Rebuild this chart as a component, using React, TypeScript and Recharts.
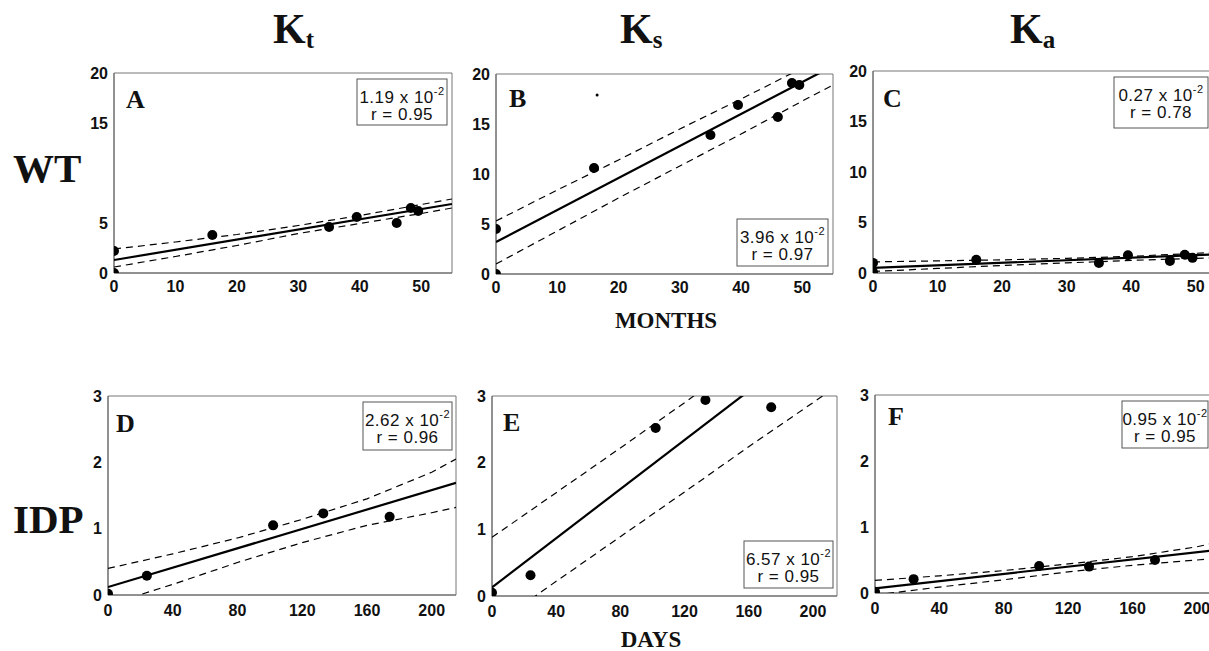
import { ScatterChart, Scatter, XAxis, YAxis, ReferenceArea } from 'recharts'

// sampling times
const months = [0, 0, 16, 35, 39.5, 46, 48.3, 49.5]
const days = [0, 24, 102, 133, 174]
const monthGrid = [0, 10, 20, 30, 40, 50, 55]
const dayGrid = [0, 40, 80, 120, 160, 200, 215]
const monthEnds = [0, 55]
const dayEnds = [0, 215]
const monthTicks = [0, 10, 20, 30, 40, 50]
const dayTicks = [0, 40, 80, 120, 160, 200]
const wtTicksA = [0, 5, 15, 20]
const wtTicks = [0, 5, 10, 15, 20]
const idpTicks = [0, 1, 2, 3]

// WT (months)
const ktWT = [2.2, 0, 3.8, 4.6, 5.6, 5.0, 6.5, 6.2]
const ksWT = [4.5, 0, 10.6, 13.9, 16.9, 15.7, 19.1, 18.9]
const kaWT = [1.0, 0.1, 1.3, 1.0, 1.75, 1.2, 1.8, 1.5]
const ktWTFit = [1.3, 6.9]
const ksWTFit = [3.2, 20.8]
const kaWTFit = [0.5, 1.9]
const ktWTUpper = [2.4, 3.1, 3.85, 4.75, 5.75, 6.85, 7.4]
const ktWTLower = [0.6, 1.65, 2.75, 3.95, 4.95, 5.95, 6.5]
const ksWTUpper = [5.3, 8.4, 11.4, 14.5, 17.5, 20.6, 22.1]
const ksWTLower = [1.0, 4.3, 7.6, 10.8, 14.0, 17.3, 18.9]
const kaWTUpper = [1.1, 1.2, 1.3, 1.45, 1.65, 1.95, 2.1]
const kaWTLower = [0.15, 0.45, 0.75, 1.0, 1.25, 1.45, 1.55]
const strayB = [{ x: 16.5, y: 17.9 }]

// IDP (days)
const ktIDP = [0.02, 0.29, 1.05, 1.23, 1.18]
const ksIDP = [0.05, 0.31, 2.52, 2.94, 2.83]
const kaIDP = [0.02, 0.21, 0.41, 0.4, 0.5]
const ktIDPFit = [0.12, 1.69]
const ksIDPFit = [0.13, 4.09]
const kaIDPFit = [0.07, 0.66]
const ktIDPUpper = [0.4, 0.62, 0.86, 1.14, 1.45, 1.85, 2.05]
const ktIDPLower = [-0.15, 0.16, 0.49, 0.79, 1.05, 1.24, 1.32]
const ksIDPUpper = [0.88, 1.55, 2.22, 2.9, 3.6, 4.35, 4.65]
const ksIDPLower = [-0.46, 0.22, 0.89, 1.56, 2.24, 2.9, 3.15]
const kaIDPUpper = [0.19, 0.26, 0.34, 0.44, 0.55, 0.7, 0.78]
const kaIDPLower = [-0.03, 0.09, 0.2, 0.32, 0.42, 0.5, 0.53]

const slopes = ['1.19', '3.96', '0.27', '2.62', '6.57', '0.95']
const rValues = ['0.95', '0.97', '0.78', '0.96', '0.95', '0.95']
const letters = ['A', 'B', 'C', 'D', 'E', 'F']

const pts = (xs: number[], ys: number[]) => xs.map((x, i) => ({ x, y: ys[i] }))

const panels = [
  { xs: months, ys: ktWT, grid: monthGrid, up: ktWTUpper, lo: ktWTLower, ends: monthEnds, fit: ktWTFit, xMax: 55, yMax: 20, xTicks: monthTicks, yTicks: wtTicksA, plot: [114, 73, 338, 200], xMargin: 2 },
  { xs: months, ys: ksWT, grid: monthGrid, up: ksWTUpper, lo: ksWTLower, ends: monthEnds, fit: ksWTFit, xMax: 55, yMax: 20, xTicks: monthTicks, yTicks: wtTicks, plot: [496, 74, 337, 200], xMargin: 2, stray: strayB },
  { xs: months, ys: kaWT, grid: monthGrid, up: kaWTUpper, lo: kaWTLower, ends: monthEnds, fit: kaWTFit, xMax: 55, yMax: 20, xTicks: monthTicks, yTicks: wtTicks, plot: [873, 71, 355, 202], xMargin: 2 },
  { xs: days, ys: ktIDP, grid: dayGrid, up: ktIDPUpper, lo: ktIDPLower, ends: dayEnds, fit: ktIDPFit, xMax: 215, yMax: 3, xTicks: dayTicks, yTicks: idpTicks, plot: [108, 396, 348, 199], xMargin: 4 },
  { xs: days, ys: ksIDP, grid: dayGrid, up: ksIDPUpper, lo: ksIDPLower, ends: dayEnds, fit: ksIDPFit, xMax: 215, yMax: 3, xTicks: dayTicks, yTicks: idpTicks, plot: [492, 396, 345, 200], xMargin: 4 },
  { xs: days, ys: kaIDP, grid: dayGrid, up: kaIDPUpper, lo: kaIDPLower, ends: dayEnds, fit: kaIDPFit, xMax: 215, yMax: 3, xTicks: dayTicks, yTicks: idpTicks, plot: [875, 395, 346, 198], xMargin: 4 },
]

const letterPos = [[126, 108], [509, 107], [883, 107], [116, 432], [503, 431], [888, 425]]
const boxes = [[357, 79, 90, 46], [737, 219, 91, 47], [1114, 77, 94, 51], [363, 402, 89, 48], [744, 541, 89, 47], [1122, 401, 86, 47]]

const Y_W = 50
const X_H = 30
const TOP = 10
const RIGHT = 10

const tickStyle = { fontSize: 16, fontWeight: 700, fill: '#111', fontFamily: '"Liberation Sans", Arial, sans-serif' }
const empty = () => <g />
const dot = (p: any) => <circle cx={p.cx} cy={p.cy} r={5} fill="#000" />
const tiny = (p: any) => <circle cx={p.cx} cy={p.cy} r={1.5} fill="#000" />

function Panel({ cfg }: { cfg: (typeof panels)[number] & { stray?: { x: number; y: number }[] } }) {
  const [px, py, pw, ph] = cfg.plot
  const width = Y_W + pw + RIGHT
  const height = TOP + ph + X_H
  const dash = { stroke: '#000', strokeWidth: 1.2, strokeDasharray: '7 5', fill: 'none' }
  return (
    <div style={{ position: 'absolute', left: px - Y_W, top: py - TOP }}>
      <ScatterChart width={width} height={height} margin={{ top: TOP, right: RIGHT, left: 0, bottom: 0 }}>
        <XAxis
          type="number"
          dataKey="x"
          domain={[0, cfg.xMax]}
          ticks={cfg.xTicks}
          interval={0}
          allowDataOverflow
          height={X_H}
          tick={tickStyle}
          tickLine={false}
          tickMargin={cfg.xMargin}
          axisLine={{ stroke: '#666' }}
        />
        <YAxis
          type="number"
          dataKey="y"
          domain={[0, cfg.yMax]}
          ticks={cfg.yTicks}
          interval={0}
          allowDataOverflow
          width={Y_W}
          tick={tickStyle}
          tickLine={false}
          tickMargin={0}
          axisLine={{ stroke: '#666' }}
        />
        <ReferenceArea x1={0} x2={cfg.xMax} y1={0} y2={cfg.yMax} fill="none" stroke="#777" strokeWidth={1} />
        <Scatter data={pts(cfg.grid, cfg.up)} line={dash} lineType="joint" shape={empty} isAnimationActive={false} />
        <Scatter data={pts(cfg.grid, cfg.lo)} line={dash} lineType="joint" shape={empty} isAnimationActive={false} />
        <Scatter
          data={pts(cfg.ends, cfg.fit)}
          line={{ stroke: '#000', strokeWidth: 2.2, fill: 'none' }}
          lineType="joint"
          shape={empty}
          isAnimationActive={false}
        />
        <Scatter data={pts(cfg.xs, cfg.ys)} shape={dot} isAnimationActive={false} />
        {cfg.stray && <Scatter data={cfg.stray} shape={tiny} isAnimationActive={false} />}
      </ScatterChart>
    </div>
  )
}

const serif = '"Liberation Serif", "Times New Roman", serif'
const sans = '"Liberation Sans", Arial, sans-serif'

export default function App() {
  return (
    <div style={{ position: 'absolute', left: 0, top: 0, width: 1209, height: 651, overflow: 'hidden', background: '#fff' }}>
      {panels.map((p, i) => (
        <Panel key={i} cfg={p} />
      ))}
      <svg width={1209} height={651} style={{ position: 'absolute', left: 0, top: 0, pointerEvents: 'none' }}>
        <g fontFamily={serif} fontWeight={700} fill="#111">
          <text x={273} y={43} fontSize={42}>
            K<tspan fontSize={25} dy={5}>t</tspan>
          </text>
          <text x={620} y={43} fontSize={42}>
            K<tspan fontSize={25} dy={5}>s</tspan>
          </text>
          <text x={1010} y={43} fontSize={42}>
            K<tspan fontSize={25} dy={5}>a</tspan>
          </text>
          <text x={13} y={182} fontSize={41}>WT</text>
          <text x={13} y={533} fontSize={41}>IDP</text>
          <text x={666} y={328} fontSize={23} textAnchor="middle">MONTHS</text>
          <text x={651} y={647} fontSize={23} textAnchor="middle">DAYS</text>
          {letters.map((l, i) => (
            <text key={l} x={letterPos[i][0]} y={letterPos[i][1]} fontSize={26}>
              {l}
            </text>
          ))}
        </g>
        {boxes.map(([bx, by, bw, bh], i) => (
          <g key={i} fontFamily={sans} fill="#111">
            <rect x={bx} y={by} width={bw} height={bh} fill="#fff" stroke="#555" strokeWidth={1} />
            <text x={bx + bw / 2} y={by + 24} fontSize={17} textAnchor="middle" letterSpacing={0.5}>
              {slopes[i]} x 10<tspan fontSize={11} dy={-8}>-2</tspan>
            </text>
            <text x={bx + bw / 2} y={by + 41} fontSize={17} textAnchor="middle" letterSpacing={0.5}>
              r = {rValues[i]}
            </text>
          </g>
        ))}
      </svg>
    </div>
  )
}
